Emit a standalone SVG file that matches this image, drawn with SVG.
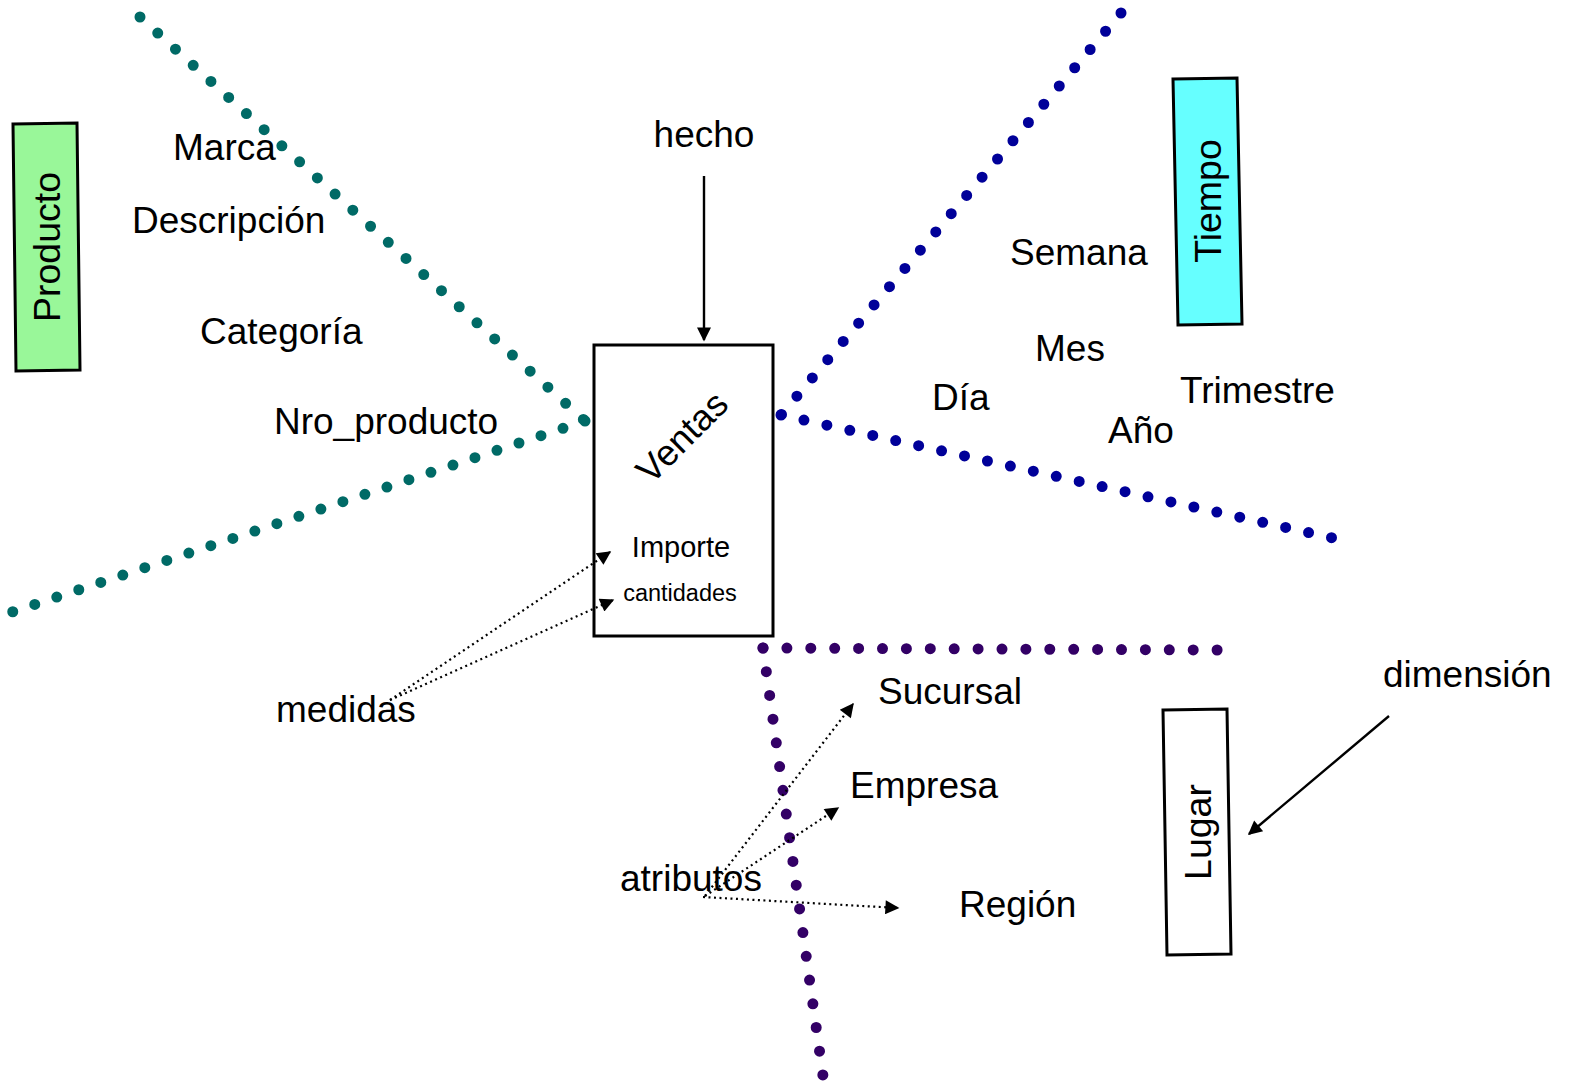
<svg xmlns="http://www.w3.org/2000/svg" width="1569" height="1085" viewBox="0 0 1569 1085">
  <style>
    text { font-family: "Liberation Sans", Arial, sans-serif; fill: #000; }
    .lbl { font-size: 37px; }
    .dim { font-size: 37.5px; text-anchor: middle; dominant-baseline: central; }
    .box { stroke: #000; stroke-width: 3; }
    .dots { fill: none; stroke-width: 11; stroke-linecap: round; }
    .teal { stroke: #006a66; }
    .blue { stroke: #000099; }
    .purple { stroke: #330066; }
    .solid { fill: none; stroke: #000; stroke-width: 2.4; }
    .dotted { fill: none; stroke: #000; stroke-width: 2.2; stroke-dasharray: 2 3.5; }
  </style>
  <defs>
    <marker id="arrowLg" viewBox="0 0 10 10" refX="9" refY="5" markerWidth="16" markerHeight="14" markerUnits="userSpaceOnUse" orient="auto">
      <path d="M0,0 L10,5 L0,10 Z" fill="#000"/>
    </marker>
  </defs>

  <rect width="1569" height="1085" fill="#fff"/>

  <!-- fact table -->
  <g id="ventas">
    <rect class="box" x="594" y="345" width="179" height="291" fill="#fff"/>
    <text x="682" y="437" font-size="36.5" text-anchor="middle" dominant-baseline="central" transform="rotate(-45 682 437)">Ventas</text>
    <text x="681" y="557" font-size="29" text-anchor="middle">Importe</text>
    <text x="680" y="601" font-size="23.5" text-anchor="middle">cantidades</text>
  </g>

  <!-- dimension boxes -->
  <g id="producto">
    <polygon class="box" points="13,124 77,123 80,370 16,371" fill="#99f799"/>
    <text class="dim" x="47" y="247" transform="rotate(-90 47 247)">Producto</text>
  </g>
  <g id="tiempo">
    <polygon class="box" points="1173,79 1237,78 1242,324 1178,325" fill="#66ffff"/>
    <text class="dim" x="1208" y="201" transform="rotate(-90 1208 201)">Tiempo</text>
  </g>
  <g id="lugar">
    <polygon class="box" points="1163,710 1227,709 1231,954 1167,955" fill="#fff"/>
    <text class="dim" x="1198" y="832" transform="rotate(-90 1198 832)">Lugar</text>
  </g>

  <!-- dotted dimension axes and annotation arrows -->
  <g id="connectors">
    <path class="dots teal" stroke-dasharray="0 23.95" d="M140,17 L584,420"/>
    <path class="dots teal" stroke-dasharray="0 23.2" d="M585,421 L12,612"/>
    <path class="dots blue" stroke-dasharray="0 23.9" d="M1121,13 L781,415"/>
    <path class="dots blue" stroke-dasharray="0 23.5" d="M781,415 L1333,538"/>
    <path class="dots purple" stroke-dasharray="0 23.9" d="M763,648 L1218,650"/>
    <path class="dots purple" stroke-dasharray="0 23.95" d="M763,648 L823,1076"/>

    <path class="solid" d="M704,176 L704,340" marker-end="url(#arrowLg)"/>
    <path class="solid" d="M1389,716 L1249,834" marker-end="url(#arrowLg)"/>
    <path class="dotted" d="M390,700 L610,552" marker-end="url(#arrowLg)"/>
    <path class="dotted" d="M390,700 L613,600" marker-end="url(#arrowLg)"/>
    <path class="dotted" d="M705,896 L853,704" marker-end="url(#arrowLg)"/>
    <path class="dotted" d="M705,896 L838,808" marker-end="url(#arrowLg)"/>
    <path class="dotted" d="M703,897 L898,908" marker-end="url(#arrowLg)"/>
  </g>

  <!-- attribute and annotation labels -->
  <g id="labels">
    <text id="hecho" class="lbl" x="704" y="147" text-anchor="middle">hecho</text>
    <text id="marca" class="lbl" x="173" y="160">Marca</text>
    <text id="descripcion" class="lbl" x="132" y="233">Descripción</text>
    <text id="categoria" class="lbl" x="200" y="344">Categoría</text>
    <text id="nro_producto" class="lbl" x="274" y="434">Nro_producto</text>
    <text id="semana" class="lbl" x="1010" y="265">Semana</text>
    <text id="mes" class="lbl" x="1035" y="361">Mes</text>
    <text id="dia" class="lbl" x="932" y="410">Día</text>
    <text id="trimestre" class="lbl" x="1180" y="403">Trimestre</text>
    <text id="anio" class="lbl" x="1108" y="443">Año</text>
    <text id="medidas" class="lbl" x="276" y="722">medidas</text>
    <text id="sucursal" class="lbl" x="878" y="704">Sucursal</text>
    <text id="empresa" class="lbl" x="850" y="798">Empresa</text>
    <text id="region" class="lbl" x="959" y="917">Región</text>
    <text id="atributos" class="lbl" x="620" y="891">atributos</text>
    <text id="dimension" class="lbl" x="1383" y="687">dimensión</text>
  </g>
</svg>
